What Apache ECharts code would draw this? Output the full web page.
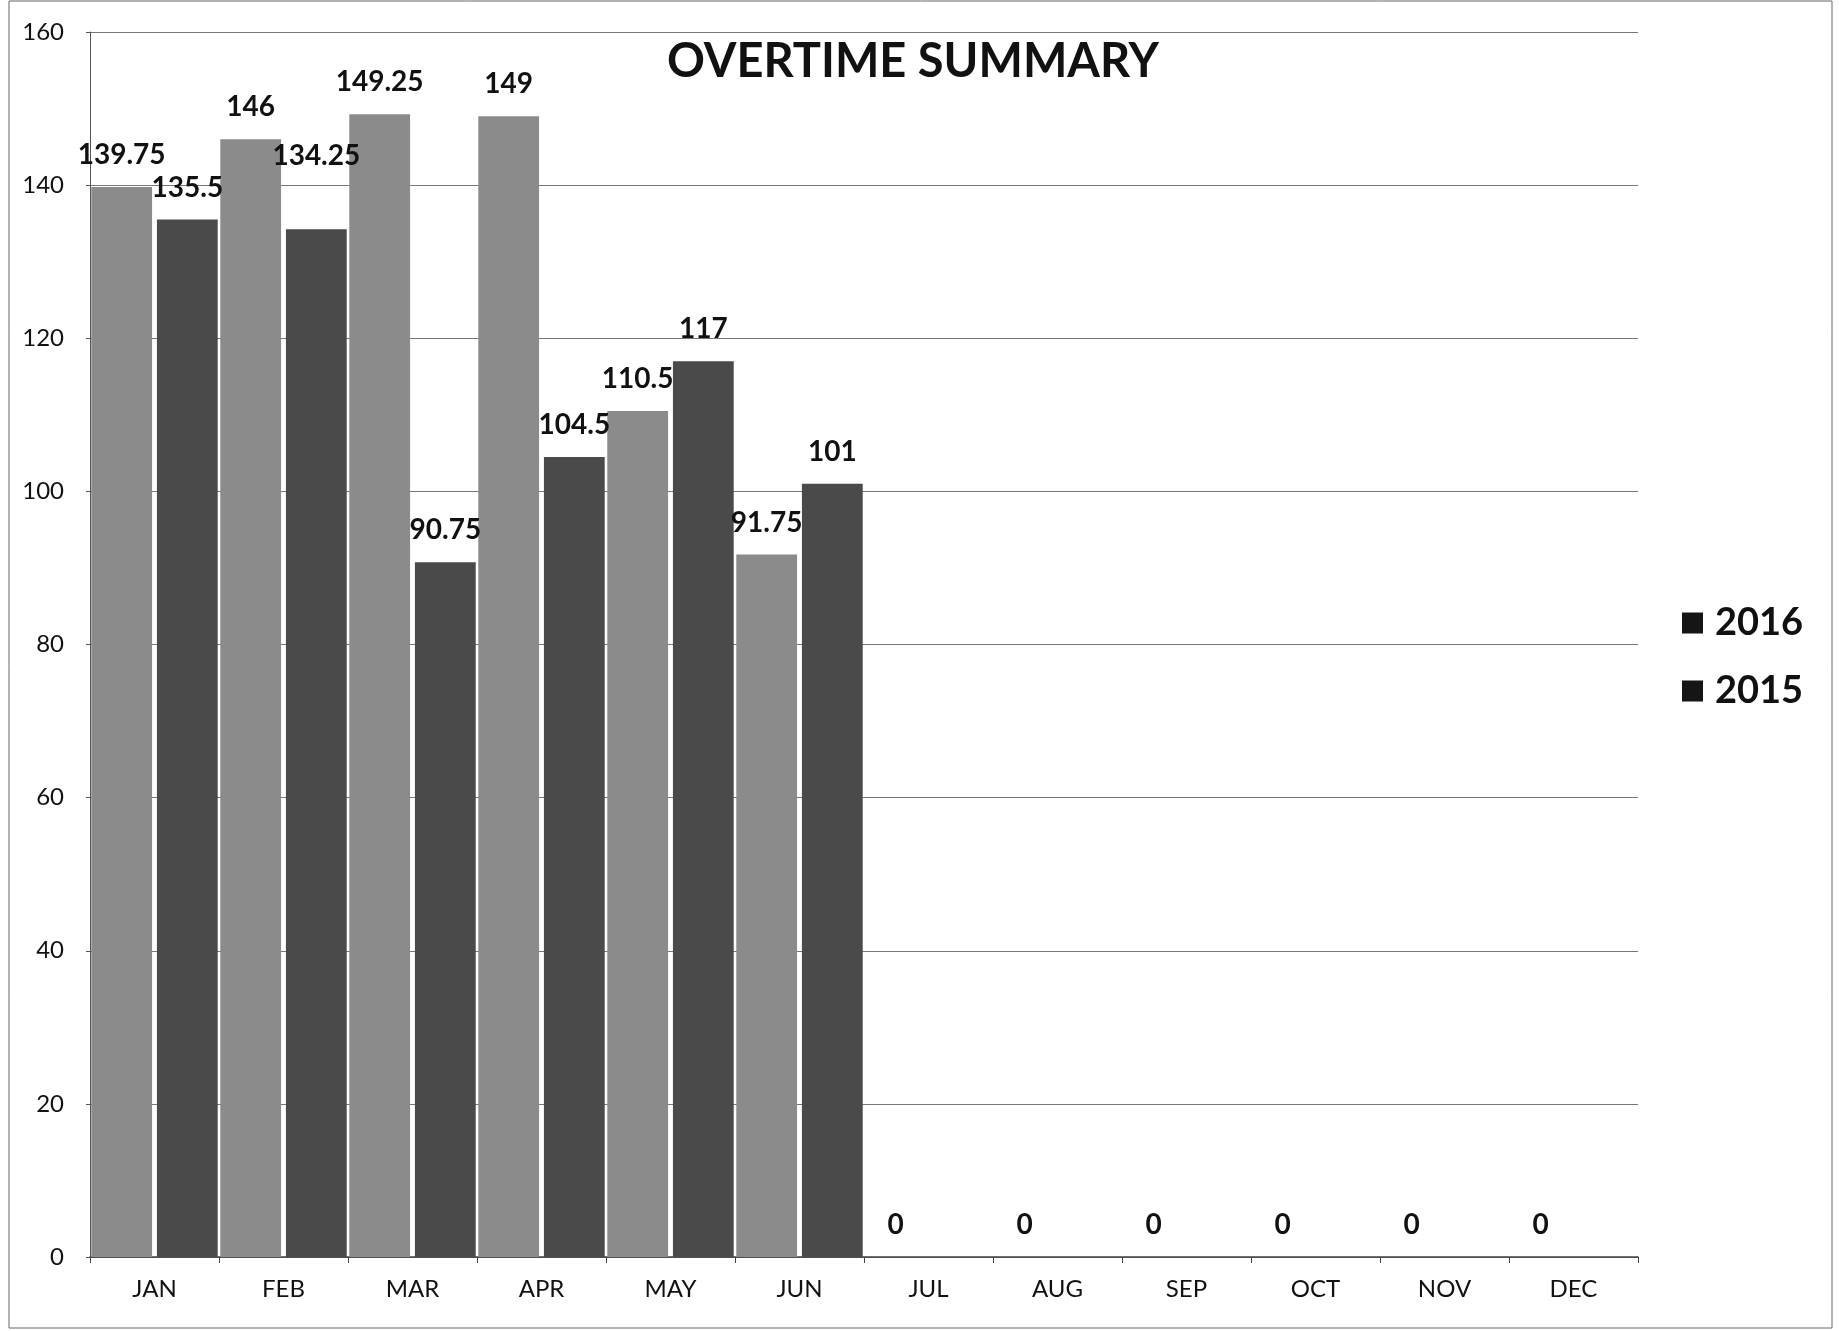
<!DOCTYPE html>
<html>
<head>
<meta charset="utf-8">
<script src="https://cdn.jsdelivr.net/npm/echarts@6/dist/echarts.min.js"></script>
<style>
html,body{margin:0;padding:0;background:#fff;}
#chart{width:1839px;height:1331px;}
</style>
</head>
<body>
<div id="chart"></div>
<script>
var months = ['JAN','FEB','MAR','APR','MAY','JUN','JUL','AUG','SEP','OCT','NOV','DEC'];
var values2016 = [139.75, 146, 149.25, 149, 110.5, 91.75, 0, 0, 0, 0, 0, 0];
var values2015 = [135.5, 134.25, 90.75, 104.5, 117, 101, null, null, null, null, null, null];
var yTicks = [0, 20, 40, 60, 80, 100, 120, 140, 160];

var FONT = 'Lato';

// The reference moved one data label (FEB 2015) above the gridline.
function withLabelLift(values, liftIndex, lift) {
  return values.map(function (v, i) {
    if (i === liftIndex) return {value: v, label: {offset: [0, -lift]}};
    return v;
  });
}

var chart = echarts.init(document.getElementById('chart'));
chart.setOption({
  animation: false,
  backgroundColor: '#ffffff',
  title: {
    text: 'OVERTIME SUMMARY',
    left: 908, top: 33, textAlign: 'center',
    textStyle: {fontFamily: FONT, fontWeight: 'bold', fontSize: 47, color: '#111'}
  },
  legend: {
    orient: 'vertical',
    left: 1677, top: 598,
    itemWidth: 21, itemHeight: 21, itemGap: 28,
    icon: 'rect',
    data: [
      {name: '2016', itemStyle: {color: '#151515'}},
      {name: '2015', itemStyle: {color: '#151515'}}
    ],
    textStyle: {fontFamily: FONT, fontWeight: 'bold', fontSize: 38, lineHeight: 40, color: '#111', padding: [0, 0, 0, 7]}
  },
  graphic: [{
    type: 'rect', silent: true,
    shape: {x: 9, y: 1, width: 1823, height: 1327},
    style: {fill: 'none', stroke: '#666', lineWidth: 1}
  }],
  grid: {left: 90, right: 201, top: 32, bottom: 74},
  xAxis: {
    type: 'category',
    data: months,
    axisLine: {lineStyle: {color: '#444', width: 1.5}},
    axisTick: {show: true, length: 6, lineStyle: {color: '#444'}},
    axisLabel: {fontFamily: FONT, fontSize: 24, color: '#111', margin: 20}
  },
  yAxis: {
    type: 'value',
    min: 0, max: 160, interval: 20,
    axisLine: {show: true, lineStyle: {color: '#555', width: 1}},
    axisTick: {show: true, length: 4, lineStyle: {color: '#555'}},
    axisLabel: {fontFamily: FONT, fontSize: 24, color: '#111', margin: 26,
      formatter: function (v) { return yTicks.indexOf(v) >= 0 ? String(v) : ''; }},
    splitLine: {show: true, lineStyle: {color: '#777', width: 1}}
  },
  series: [
    {
      name: '2016', type: 'bar', data: values2016,
      barCategoryGap: '2%', barGap: '8%',
      itemStyle: {color: '#8b8b8b'},
      label: {show: true, position: 'top', distance: 18,
        fontFamily: FONT, fontWeight: 'bold', fontSize: 28, color: '#111'}
    },
    {
      name: '2015', type: 'bar', data: withLabelLift(values2015, 1, 41),
      barCategoryGap: '2%', barGap: '8%',
      itemStyle: {color: '#4a4a4a'},
      label: {show: true, position: 'top', distance: 18,
        fontFamily: FONT, fontWeight: 'bold', fontSize: 28, color: '#111'}
    }
  ]
});
</script>
</body>
</html>
